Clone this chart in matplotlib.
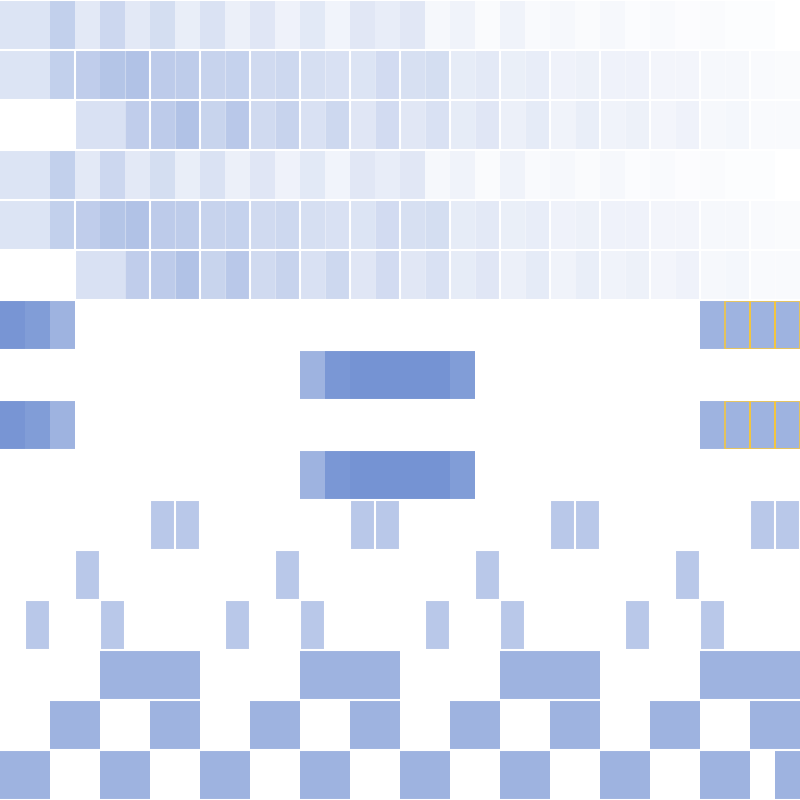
import numpy as np
import matplotlib
matplotlib.use("Agg")
import matplotlib.pyplot as plt
from matplotlib.colors import LinearSegmentedColormap
from matplotlib.patches import Rectangle

nan = np.nan

# intensity values (0 = white, 1 = darkest blue)
band_a = [0.25, 0.25, 0.44, 0.20, 0.37, 0.20, 0.31, 0.16, 0.27, 0.14, 0.23, 0.12,
          0.21, 0.10, 0.22, 0.17, 0.22, 0.07, 0.11, 0.04, 0.11, 0.05, 0.07, 0.04,
          0.07, 0.03, 0.05, 0.025, 0.04, 0.02, 0.02, 0.0]
band_b = [0.25, 0.25, 0.44, 0.46, 0.54, 0.57, 0.48, 0.47, 0.41, 0.42, 0.34, 0.36,
          0.30, 0.28, 0.25, 0.33, 0.29, 0.31, 0.18, 0.20, 0.15, 0.17, 0.12, 0.13,
          0.12, 0.12, 0.09, 0.09, 0.065, 0.065, 0.043, 0.036]
band_c = [nan, nan, nan, 0.28, 0.28, 0.46, 0.48, 0.57, 0.40, 0.51, 0.34, 0.41,
          0.28, 0.36, 0.23, 0.33, 0.22, 0.28, 0.18, 0.23, 0.14, 0.19, 0.11, 0.16,
          0.11, 0.13, 0.09, 0.12, 0.07, 0.08, 0.05, 0.05]

block_a = [0.98, 0.91, 0.70] + [nan] * 25 + [0.70, 0.70, 0.70, 0.70]
block_b = [nan] * 12 + [0.70, 0.96, 1.0, 1.0, 1.0, 1.0, 0.91] + [nan] * 13

# on/off patterns for the lower rows
pattern_rows = [
    "00000011000000110000001100000011",
    "00010000000100000001000000010000",
    "01001000010010000100100001001000",
    "00001111000011110000111100001111",
    "00110011001100110011001100110011",
    "11001100110011001100110011001101",
]
pattern_levels = [0.51, 0.51, 0.51, 0.70, 0.70, 0.70]

# highlighted cells (row, column)
highlight = [(6, 29), (6, 30), (6, 31), (8, 29), (8, 30), (8, 31)]

grid = [band_a, band_b, band_c, band_a, band_b, band_c,
        block_a, block_b, block_a, block_b]
for pat, lev in zip(pattern_rows, pattern_levels):
    grid.append([lev if ch == "1" else nan for ch in pat])
grid = np.array(grid, dtype=float)
n_rows, n_cols = grid.shape

cmap = LinearSegmentedColormap.from_list("blues", ["#ffffff", "#7593D3"])

fig = plt.figure(figsize=(8, 8), dpi=100)
ax = fig.add_axes([0, 0, 1, 1])
ax.pcolormesh(np.arange(n_cols + 1), np.arange(n_rows + 1),
              np.ma.masked_invalid(grid), cmap=cmap, vmin=0, vmax=1,
              shading="flat", antialiased=False, edgecolors="none")

# white gaps between rows
ax.hlines(np.arange(n_rows + 1), 0, n_cols, colors="white", lw=1.5)

# gaps inside the upper bands
for r in [1, 2, 4, 5]:
    for c in [3, 6, 8, 10, 12, 14, 16, 18, 20, 22, 24, 26, 28, 30]:
        ax.vlines(c, r, r + 1, colors="white", lw=1.5)
    for c in [5, 7, 9, 11, 13, 15, 17, 19, 21, 23, 25, 27, 29, 31]:
        ax.vlines(c, r, r + 1, colors="white", lw=0.8, alpha=0.35)

# single cells in rows 10-12
for r in [10, 11, 12]:
    ax.vlines(np.arange(n_cols + 1), r, r + 1, colors="white", lw=1.5)

for r, c in highlight:
    ax.add_patch(Rectangle((c, r + 0.015), 1, 0.96, facecolor="none",
                           edgecolor=(0.97, 0.78, 0.22, 0.8), lw=1.4))

ax.set_xlim(0, n_cols)
ax.set_ylim(n_rows, 0)
ax.axis("off")
fig.savefig("out.png", dpi=100)
